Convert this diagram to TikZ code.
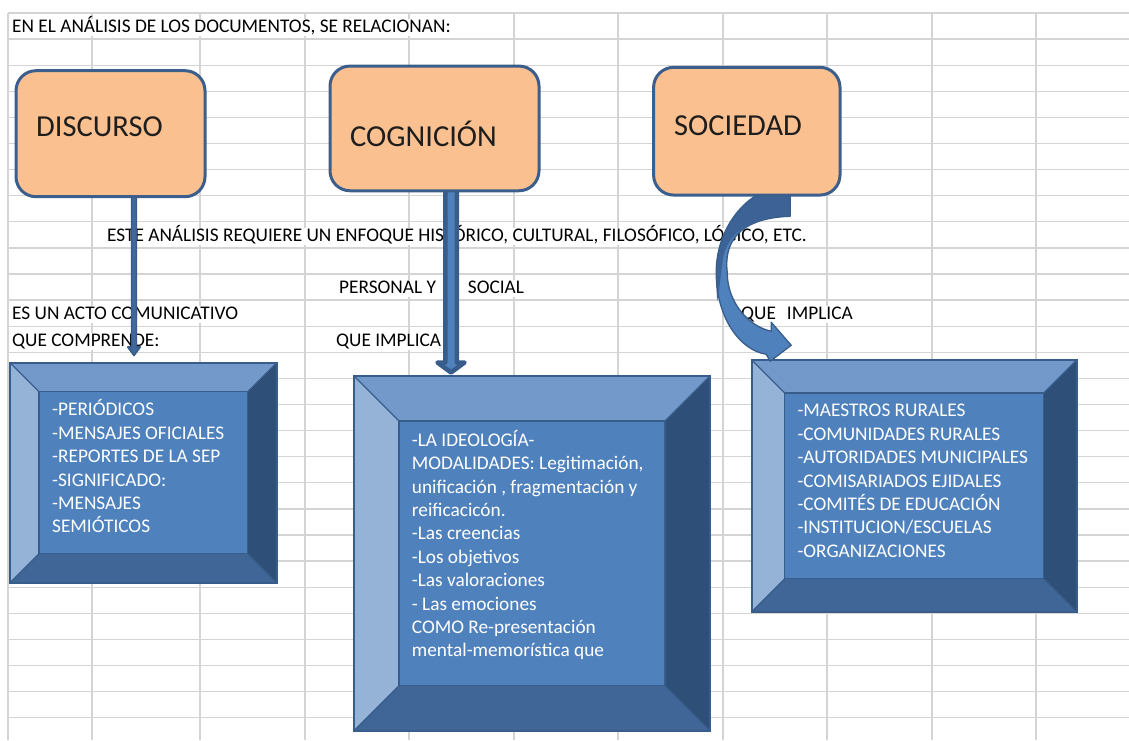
\documentclass[tikz,border=0pt]{standalone}
\usepackage{fontspec}
\setmainfont{Carlito}
\usetikzlibrary{calc}
\definecolor{gridc}{HTML}{D4D4D4}
\definecolor{bord}{HTML}{3B5E8C}
\definecolor{peach}{HTML}{FAC090}
\definecolor{faceC}{HTML}{4F81BD}
\definecolor{faceT}{HTML}{7399CB}
\definecolor{faceL}{HTML}{95B3D7}
\definecolor{faceR}{HTML}{2E4F78}
\definecolor{faceB}{HTML}{3F6696}
\definecolor{bevline}{HTML}{385D8A}
\definecolor{arrback}{HTML}{3D6396}
\definecolor{titletext}{HTML}{1E1E1E}
\newcommand{\mycellfont}{\fontsize{19.3}{23.4}\selectfont}
\newcommand{\myboxfont}{\fontsize{19.3}{23.4}\selectfont}
\newcommand{\mytitlefont}{\fontsize{30.5}{36}\selectfont}
\newcommand{\myvarrow}[6]{\filldraw[#6] ($(#1)+(-#3,0)$) -- ($(#2)+(-#3,-#5)$) -- ($(#2)+(-#4,-#5)$) -- (#2) -- ($(#2)+(#4,-#5)$) -- ($(#2)+(#3,-#5)$) -- ($(#1)+(#3,0)$) -- cycle;}
\tikzset{
  gridline/.style={draw=gridc, line width=1.3pt},
  celltext/.style={font=\mycellfont, text=black, fill=white, inner xsep=2pt, inner ysep=0pt, text height=13.5pt, text depth=3.5pt, anchor=base west},
  titlebox/.style={draw=bord, line width=3pt, fill=peach, rounded corners=20pt, inner sep=0pt},
  titletxt/.style={font=\mytitlefont, text=titletext, inner sep=0pt, anchor=base west},
  boxtext/.style={font=\myboxfont, text=white, align=left, anchor=north west, inner sep=0pt},
  arrowstyle/.style={fill=faceC, draw=bevline, line join=round},
  bevelbox/.style={draw=bevline, line width=2pt, fill=faceC, inner sep=0pt, path picture={
    \path (path picture bounding box.north west) coordinate (pNW)
          (path picture bounding box.north east) coordinate (pNE)
          (path picture bounding box.south west) coordinate (pSW)
          (path picture bounding box.south east) coordinate (pSE);
    \fill[faceT] (pNW) -- (pNE) -- ([xshift=-#1,yshift=-#1]pNE) -- ([xshift=#1,yshift=-#1]pNW) -- cycle;
    \fill[faceB] (pSW) -- (pSE) -- ([xshift=-#1,yshift=#1]pSE) -- ([xshift=#1,yshift=#1]pSW) -- cycle;
    \fill[faceL] (pNW) -- (pSW) -- ([xshift=#1,yshift=#1]pSW) -- ([xshift=#1,yshift=-#1]pNW) -- cycle;
    \fill[faceR] (pNE) -- (pSE) -- ([xshift=-#1,yshift=#1]pSE) -- ([xshift=-#1,yshift=-#1]pNE) -- cycle;
    \draw[bevline, line width=1.2pt] ([xshift=#1,yshift=-#1]pNW) rectangle ([xshift=-#1,yshift=#1]pSE);
    \draw[bevline, line width=1.2pt] (pNW) -- ([xshift=#1,yshift=-#1]pNW) (pNE) -- ([xshift=-#1,yshift=-#1]pNE)
          (pSW) -- ([xshift=#1,yshift=#1]pSW) (pSE) -- ([xshift=-#1,yshift=#1]pSE);
  }},
}
\begin{document}
\begin{tikzpicture}[x=1pt,y=-1pt]
\useasboundingbox (0,0) rectangle (1129,740);
\fill[white] (0,0) rectangle (1129,740);
% grid
\foreach \k in {0,...,27} \draw[gridline] (8,{13+26.1*\k}) -- (1129,{13+26.1*\k});
\foreach \x in {8,92,200,305,409,514,618,723,827,932,1036} \draw[gridline] (\x,13) -- (\x,740);
% cell texts
\node[celltext] (t0) at (10,32.8) {EN EL ANÁLISIS DE LOS DOCUMENTOS, SE RELACIONAN:};
\node[celltext] (t1) at (105,241.6) {ESTE ANÁLISIS REQUIERE UN ENFOQUE HISTÓRICO, CULTURAL, FILOSÓFICO, LÓGICO, ETC.};
\node[celltext] (t2) at (337,293.8) {PERSONAL Y\hspace{32pt}SOCIAL};
\node[celltext] (t3) at (10,319.9) {ES UN ACTO COMUNICATIVO};
\node[celltext] (t4) at (739,319.9) {QUE\hspace{11pt}IMPLICA};
\node[celltext] (t5) at (10,346) {QUE COMPRENDE:};
\node[celltext] (t6) at (334,346) {QUE IMPLICA};
% bevel boxes
\node[bevelbox=29pt, minimum width=266.7pt, minimum height=220pt] (b1) at (143.35,472.7) {};
\node[bevelbox=45pt, minimum width=356pt, minimum height=354.7pt] (b2) at (532,553.35) {};
\node[bevelbox=33pt, minimum width=325pt, minimum height=251.7pt] (b3) at (914.2,485.85) {};
\node[boxtext] (b1t) at (52,398.7) {\rule{0pt}{17pt}-PERIÓDICOS\\-MENSAJES OFICIALES\\-REPORTES DE LA SEP\\-SIGNIFICADO:\\-MENSAJES\\SEMIÓTICOS};
\node[boxtext] (b2t) at (411.7,429) {\rule{0pt}{17pt}-LA IDEOLOGÍA-\\MODALIDADES: Legitimación,\\unificación , fragmentación y\\reificacicón.\\-Las creencias\\-Los objetivos\\-Las valoraciones\\- Las emociones\\COMO Re-presentación\\mental-memorística que};
\node[boxtext] (b3t) at (797.3,399.7) {\rule{0pt}{17pt}-MAESTROS RURALES\\-COMUNIDADES RURALES\\-AUTORIDADES MUNICIPALES\\-COMISARIADOS EJIDALES\\-COMITÉS DE EDUCACIÓN\\-INSTITUCION/ESCUELAS\\-ORGANIZACIONES};
% title boxes (defined first for anchors, drawn later on top)
\path (110.5,133.7) node[minimum width=189pt, minimum height=126pt, inner sep=0pt] (discR) {};
\path (434.5,128.4) node[minimum width=209pt, minimum height=124.7pt, inner sep=0pt] (cognR) {};
\path (746.8,131.2) node[minimum width=186.4pt, minimum height=127.7pt, inner sep=0pt] (socR) {};
% straight arrows
\coordinate (a1s) at ($(discR.south)+(23.5,-8)$);
\coordinate (a1e) at ($(b1.north)+(-9.35,-6.2)$);
\myvarrow{a1s}{a1e}{2.4}{6.3}{8.5}{arrowstyle, fill=faceB!85!faceC, line width=1.6pt}
\coordinate (a2s) at ($(cognR.south)+(16.5,-8)$);
\coordinate (a2e) at ($(b2.north)+(-81,-2.5)$);
\myvarrow{a2s}{a2e}{5.75}{13.5}{10}{arrowstyle, line width=4.5pt}
% curved arrow from SOCIEDAD to its box
\begin{scope}[shift={($(socR.south east)+(-50,-10)$)}]
  \fill[faceC] (0,0) .. controls (-40,0) and (-74,40) .. (-74,87) .. controls (-74,133) and (-50,165) .. (-24,169)
     -- (-20,176) -- (1,160) -- (-19,137) -- (-19,146) .. controls (-42,141) and (-63,117) .. (-63,87)
     .. controls (-66,60) and (-55,33) .. (0,31) -- cycle;
  \fill[arrback] (0,0) .. controls (-40,0) and (-74,40) .. (-74,87) .. controls (-74,100) and (-73.5,108) .. (-73,116)
     .. controls (-70,100) and (-69,85) .. (-67,72) .. controls (-62,50) and (-45,32) .. (0,31) -- cycle;
  \draw[bevline, line width=1.3pt, line join=round] (0,0) .. controls (-40,0) and (-74,40) .. (-74,87) .. controls (-74,133) and (-50,165) .. (-24,169)
     -- (-20,176) -- (1,160) -- (-19,137) -- (-19,146) .. controls (-42,141) and (-63,117) .. (-63,87)
     .. controls (-66,60) and (-55,33) .. (0,31) -- cycle;
\end{scope}
% title boxes on top
\node[titlebox, minimum width=189pt, minimum height=126pt] (disc) at (discR) {};
\node[titlebox, minimum width=209pt, minimum height=124.7pt] (cogn) at (cognR) {};
\node[titlebox, minimum width=186.4pt, minimum height=127.7pt] (soc) at (socR) {};
\node[titletxt] (discT) at (36,136.7) {DISCURSO};
\node[titletxt] (cognT) at (350,146) {COGNICIÓN};
\node[titletxt] (socT) at (674,135) {SOCIEDAD};
\end{tikzpicture}
\end{document}
